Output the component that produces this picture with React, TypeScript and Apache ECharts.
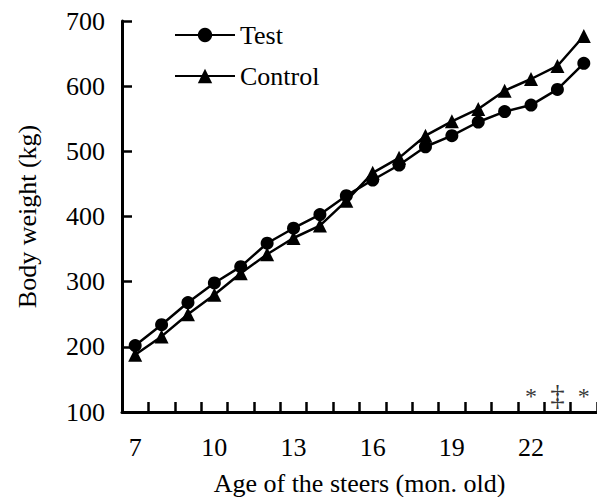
import React, { useEffect, useRef } from 'react';
import * as echarts from 'echarts';

const months = ['7', '8', '9', '10', '11', '12', '13', '14', '15', '16', '17', '18', '19', '20', '21', '22', '23', '24'];
const testWeights = [202, 234, 268, 298, 323, 359, 382, 403, 432, 456, 479, 507, 524, 545, 561, 571, 595, 635];
const controlWeights = [188, 216, 250, 280, 313, 342, 367, 386, 424, 467, 490, 524, 546, 565, 593, 611, 631, 677];
const markMonths = ['22', '23', '24'];
const markSigns = ['*', '‡', '*'];
const markLevels = [124, 126, 124];

const FONT = 'Liberation Serif';

export default function App() {
  const ref = useRef<HTMLDivElement>(null);
  useEffect(() => {
    const chart = echarts.init(ref.current!, null, { renderer: 'svg' });
    chart.setOption({
      animation: false,
      backgroundColor: '#ffffff',
      textStyle: { fontFamily: FONT, color: '#000' },
      grid: { left: 122, top: 21, right: 0, bottom: 85, containLabel: false, outerBoundsMode: 'none' },
      legend: {
        data: ['Test', 'Control'],
        orient: 'vertical',
        left: 169,
        top: 17,
        itemWidth: 60,
        itemHeight: 18,
        itemGap: 15,
        textStyle: { fontSize: 26, fontFamily: FONT, color: '#000' },
      },
      xAxis: {
        type: 'category',
        data: months,
        boundaryGap: true,
        axisLine: { show: true, lineStyle: { color: '#000', width: 3 } },
        axisTick: { show: true, inside: true, length: 10, interval: 0, lineStyle: { color: '#000', width: 2.5 } },
        axisLabel: { show: true, interval: 2, fontSize: 26, fontFamily: FONT, color: '#000', margin: 22 },
        splitLine: { show: false },
        name: 'Age of the steers (mon. old)',
        nameLocation: 'middle',
        nameGap: 58,
        nameTextStyle: { fontSize: 26, fontFamily: FONT, color: '#000' },
      },
      yAxis: {
        type: 'value',
        min: 100,
        max: 700,
        interval: 100,
        axisLine: { show: true, lineStyle: { color: '#000', width: 3 } },
        axisTick: { show: true, inside: true, length: 10, lineStyle: { color: '#000', width: 2.5 } },
        axisLabel: { fontSize: 26, fontFamily: FONT, color: '#000', margin: 17 },
        splitLine: { show: false },
        name: 'Body weight (kg)',
        nameLocation: 'middle',
        nameRotate: 90,
        nameGap: 82,
        nameTextStyle: { fontSize: 26, fontFamily: FONT, color: '#000' },
      },
      series: [
        {
          name: 'Test',
          type: 'line',
          data: testWeights,
          symbol: 'circle',
          symbolSize: 13,
          lineStyle: { color: '#000', width: 2.5 },
          itemStyle: { color: '#000' },
          z: 3,
        },
        {
          name: 'Control',
          type: 'line',
          data: controlWeights,
          symbol: 'triangle',
          symbolSize: 14,
          lineStyle: { color: '#000', width: 2.5 },
          itemStyle: { color: '#000' },
          z: 2,
        },
        {
          name: 'sig',
          type: 'scatter',
          data: markMonths.map((m, i) => [m, markLevels[i], markSigns[i]]),
          symbolSize: 1,
          itemStyle: { color: 'rgba(0,0,0,0)' },
          silent: true,
          label: {
            show: true,
            position: 'inside',
            formatter: (p: any) => (p.data[2] === '‡' ? '{big|‡}' : p.data[2]),
            fontSize: 24,
            fontFamily: FONT,
            color: '#000',
            rich: { big: { fontSize: 29, fontFamily: FONT, color: '#000' } },
          },
        },
      ],
    });
    return () => chart.dispose();
  }, []);
  return <div ref={ref} style={{ position: 'fixed', left: 0, top: 0, width: 597, height: 497 }} />;
}
